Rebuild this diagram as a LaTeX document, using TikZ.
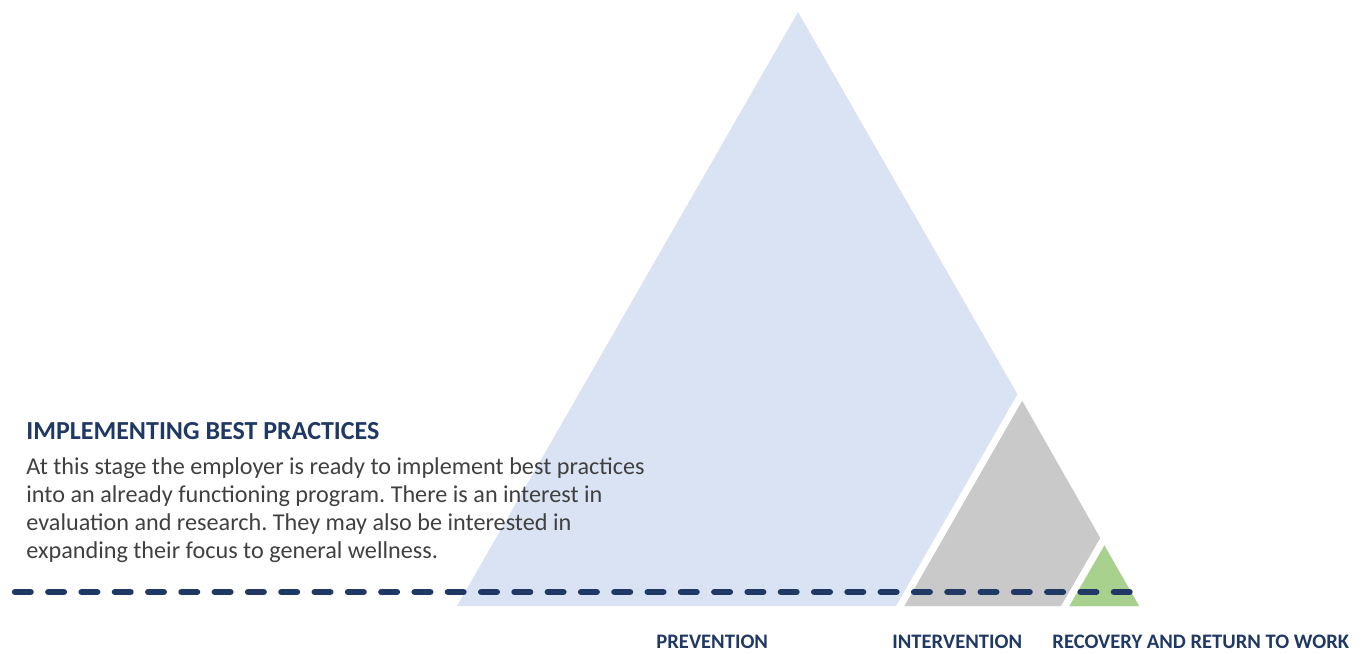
\documentclass[tikz,border=0pt]{standalone}
\usepackage{fontspec}
\setmainfont{Carlito}
\frenchspacing
\definecolor{navy}{HTML}{1F3864}
\definecolor{bodygrey}{HTML}{404040}
\definecolor{lblue}{HTML}{DAE3F3}
\definecolor{lgrey}{HTML}{C9C9C9}
\definecolor{lgreen}{HTML}{A9D18E}
\tikzset{
  headtxt/.style={anchor=base west, inner sep=0pt, text=navy, font=\fontsize{13}{15}\selectfont\bfseries},
  bodytxt/.style={anchor=base west, inner sep=0pt, text=bodygrey, font=\fontsize{12.1}{14}\selectfont},
  lbltxt/.style={anchor=base west, inner sep=0pt, text=navy, font=\fontsize{10.3}{12}\selectfont\bfseries},
  divider/.style={white, line width=3.5pt},
  stageline/.style={navy, line width=3.2pt, dash pattern=on 7.8pt off 8.85pt, line cap=round}
}
\begin{document}
\begin{tikzpicture}[x=0.5pt,y=-0.5pt]
\useasboundingbox (0,0) rectangle (1369,653);
% triangle regions
\coordinate (apex) at (798,12);
\coordinate (bl) at (457,606);
\coordinate (br) at (1139,606);
\coordinate (c1) at (1020,397);
\coordinate (c1b) at (900,606);
\coordinate (c2) at (1102,542);
\coordinate (c2b) at (1065,606);
\fill[lblue] (apex) -- (br) -- (bl) -- cycle;
\fill[lgrey] (c1) -- (br) -- (c1b) -- cycle;
\fill[lgreen] (c2) -- (br) -- (c2b) -- cycle;
% white dividers
\coordinate (d1a) at (1027,385);
\coordinate (d1b) at (895,615);
\coordinate (d2a) at (1109,530);
\coordinate (d2b) at (1060,615);
\draw[divider] (d1a) -- (d1b);
\draw[divider] (d2a) -- (d2b);
% dashed stage line
\coordinate (sl) at (15,592);
\coordinate (sr) at (1133,592);
\draw[stageline] (sl) -- (sr);
% texts
\node[headtxt] (head) at (26,439) {IMPLEMENTING BEST PRACTICES};
\node[bodytxt] (b1) at (26,474) {At this stage the employer is ready to implement best practices};
\node[bodytxt] (b2) at (26,502) {into an already functioning program. There is an interest in};
\node[bodytxt] (b3) at (26,530) {evaluation and research. They may also be interested in};
\node[bodytxt] (b4) at (26,558) {expanding their focus to general wellness.};
\node[lbltxt] (l1) at (656,648) {PREVENTION};
\node[lbltxt] (l2) at (892,648) {INTERVENTION};
\node[lbltxt] (l3) at (1052,648) {RECOVERY AND RETURN TO WORK};
\end{tikzpicture}
\end{document}
